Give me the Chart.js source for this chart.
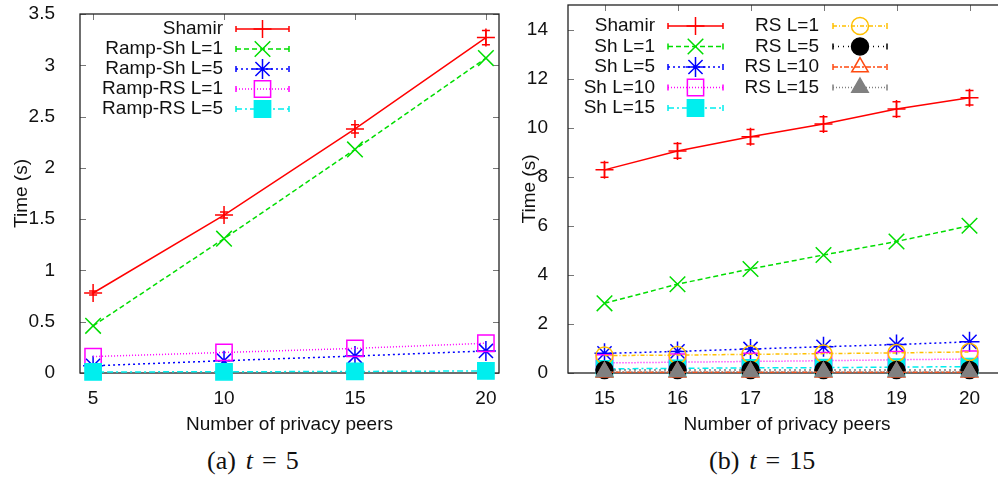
<!DOCTYPE html>
<html>
<head>
<meta charset="utf-8">
<script src="https://cdn.jsdelivr.net/npm/chart.js@4.4.1/dist/chart.umd.min.js"></script>
<style>
  html, body { margin: 0; padding: 0; background: #fff; overflow: hidden; }
  #wrap { position: relative; width: 998px; height: 485px; overflow: hidden; }
  canvas { position: absolute; top: 0; }
  #chartA { left: 0; }
  #chartB { left: 500px; }
  .cap { position: absolute; top: 446px; font-family: "Liberation Serif", "DejaVu Serif", serif;
         font-size: 26px; line-height: 30px; color: #111; white-space: nowrap; }
  .cap i { font-style: italic; }
</style>
</head>
<body>
<div id="wrap">
  <canvas id="chartA" width="500" height="440"></canvas>
  <canvas id="chartB" width="520" height="440"></canvas>
  <div class="cap" style="left:207px">(a)<i style="margin-left:10px">t</i><span style="margin-left:9px">=</span><span style="margin-left:9px">5</span></div>
  <div class="cap" style="left:709px">(b)<i style="margin-left:10px">t</i><span style="margin-left:9px">=</span><span style="margin-left:9px">15</span></div>
</div>
<script>
// --- (a) t = 5 ---
const xTicksA = [5, 10, 15, 20];
const yTicksA = [0, 0.5, 1, 1.5, 2, 2.5, 3, 3.5];
const shamirA    = [0.78, 1.54, 2.38, 3.27];
const shamirErrA = [0.02, 0.03, 0.04, 0.07];
const rampSh1A   = [0.46, 1.31, 2.18, 3.07];
const rampSh5A   = [0.07, 0.12, 0.165, 0.215];
const rampRs1A   = [0.16, 0.20, 0.24, 0.29];
const rampRs5A   = [0.01, 0.012, 0.015, 0.02];

// --- (b) t = 15 ---
const xTicksB = [15, 16, 17, 18, 19, 20];
const yTicksB = [0, 2, 4, 6, 8, 10, 12, 14];
const shamirB    = [8.28, 9.05, 9.63, 10.15, 10.76, 11.22];
const shamirErrB = [0.3, 0.3, 0.3, 0.3, 0.3, 0.3];
const sh1B  = [2.84, 3.62, 4.24, 4.81, 5.36, 6.0];
const sh5B  = [0.80, 0.88, 0.98, 1.07, 1.16, 1.27];
const sh10B = [0.41, 0.44, 0.47, 0.50, 0.54, 0.57];
const sh15B = [0.17, 0.19, 0.21, 0.22, 0.24, 0.26];
const rs1B  = [0.71, 0.73, 0.76, 0.79, 0.82, 0.86];
const rs5B  = [0.12, 0.12, 0.12, 0.12, 0.12, 0.12];
const rs10B = [0.03, 0.03, 0.03, 0.03, 0.03, 0.03];
const rs15B = [0.05, 0.05, 0.05, 0.05, 0.05, 0.05];

const FAMILY = '"Liberation Sans", Arial, sans-serif';
const FONT = { family: FAMILY, size: 19 };

const pts = (xs, ys) => xs.map((x, i) => ({ x, y: ys[i] }));

// une serie facon gnuplot : ligne + marqueur
function serie(label, xs, ys, color, style, extra) {
  return Object.assign({
    label,
    data: pts(xs, ys),
    borderColor: color,
    backgroundColor: color,
    borderWidth: 1.5,
    pointStyle: style,
    pointRadius: 9,
    pointHoverRadius: 9,
    pointBorderColor: color,
    pointBackgroundColor: 'rgba(0,0,0,0)',
    pointBorderWidth: 1.5,
    tension: 0,
    fill: false,
    clip: false,
  }, extra || {});
}

// ─── Plugins ────────────────────────────────────────────────────────────────

// cadre + graduations vers l'interieur sur les 4 cotes
const gpFrame = {
  id: 'gpFrame',
  beforeDatasetsDraw(chart) {
    const { ctx, chartArea: a, scales: { x, y } } = chart;
    const len = 6;
    ctx.save();
    ctx.strokeStyle = '#777';
    ctx.lineWidth = 1;
    ctx.beginPath();
    x.ticks.forEach(t => {
      const px = Math.round(x.getPixelForValue(t.value)) + 0.5;
      ctx.moveTo(px, a.bottom); ctx.lineTo(px, a.bottom - len);
      ctx.moveTo(px, a.top);    ctx.lineTo(px, a.top + len);
    });
    y.ticks.forEach(t => {
      const py = Math.round(y.getPixelForValue(t.value)) + 0.5;
      ctx.moveTo(a.left, py);  ctx.lineTo(a.left + len, py);
      ctx.moveTo(a.right, py); ctx.lineTo(a.right - len, py);
    });
    ctx.stroke();
    ctx.strokeStyle = '#222';
    ctx.lineWidth = 1.3;
    ctx.strokeRect(a.left, a.top, a.right - a.left, a.bottom - a.top);
    ctx.restore();
  }
};

// barres d'erreur verticales
const gpErrors = {
  id: 'gpErrors',
  afterDatasetsDraw(chart) {
    const { ctx, scales: { x, y } } = chart;
    ctx.save();
    chart.data.datasets.forEach(d => {
      if (!d.errorBars) return;
      ctx.strokeStyle = d.borderColor;
      ctx.lineWidth = 1.5;
      ctx.beginPath();
      d.data.forEach((p, i) => {
        const e = d.errorBars[i];
        const px = x.getPixelForValue(p.x);
        const y1 = y.getPixelForValue(p.y - e), y2 = y.getPixelForValue(p.y + e);
        ctx.moveTo(px, y1); ctx.lineTo(px, y2);
        ctx.moveTo(px - 4, y1); ctx.lineTo(px + 4, y1);
        ctx.moveTo(px - 4, y2); ctx.lineTo(px + 4, y2);
      });
      ctx.stroke();
    });
    ctx.restore();
  }
};

// legende gnuplot : texte aligne a droite puis echantillon
const gpLegend = {
  id: 'gpLegend',
  afterDraw(chart, args, o) {
    const ctx = chart.ctx;
    ctx.save();
    ctx.font = `19px ${FAMILY}`;
    ctx.textAlign = 'right';
    ctx.textBaseline = 'middle';
    let idx = 0;
    o.columns.forEach(col => {
      for (let r = 0; r < col.count; r++, idx++) {
        const d = chart.data.datasets[idx];
        const yy = o.top + r * o.rowHeight;
        ctx.fillStyle = '#111';
        ctx.fillText(d.label, col.textRight, yy);
        ctx.strokeStyle = d.borderColor;
        ctx.lineWidth = d.borderWidth;
        ctx.setLineDash(d.borderDash || []);
        ctx.beginPath();
        ctx.moveTo(col.lineStart, yy); ctx.lineTo(col.lineEnd, yy);
        ctx.stroke();
        ctx.setLineDash([]);
        ctx.beginPath();
        ctx.moveTo(col.lineStart, yy - 3); ctx.lineTo(col.lineStart, yy + 3);
        ctx.moveTo(col.lineEnd, yy - 3);   ctx.lineTo(col.lineEnd, yy + 3);
        ctx.stroke();
        ctx.fillStyle = d.pointBackgroundColor;
        ctx.strokeStyle = d.pointBorderColor;
        ctx.lineWidth = d.pointBorderWidth;
        Chart.helpers.drawPoint(ctx, {
          pointStyle: d.pointStyle, radius: d.pointRadius,
          borderWidth: d.pointBorderWidth, rotation: 0,
        }, (col.lineStart + col.lineEnd) / 2, yy);
      }
    });
    ctx.restore();
  }
};

function makeScales(xt, yt, xmin, xmax, ymax, yWidth, xHeight, yTitlePad, yTickPad) {
  return {
    x: {
      type: 'linear', min: xmin, max: xmax,
      afterBuildTicks: s => { s.ticks = xt.map(v => ({ value: v })); },
      afterFit: s => { s.height = xHeight; s.paddingLeft = 0; s.paddingRight = 0; },
      grid: { display: false }, border: { display: false },
      ticks: { color: '#111', font: FONT, padding: 6, maxRotation: 0, autoSkip: false,
               callback: v => String(v) },
      title: { display: true, text: 'Number of privacy peers', color: '#111', font: FONT,
               padding: { top: 0, bottom: 4 } },
    },
    y: {
      type: 'linear', min: 0, max: ymax,
      afterBuildTicks: s => { s.ticks = yt.map(v => ({ value: v })); },
      afterFit: s => { s.width = yWidth; s.paddingTop = 0; s.paddingBottom = 0; },
      grid: { display: false }, border: { display: false },
      ticks: { color: '#111', font: FONT, padding: yTickPad, callback: v => String(v) },
      title: { display: true, text: 'Time (s)', color: '#111', font: FONT,
               padding: { top: yTitlePad, bottom: 0 } },
    },
  };
}

function baseOptions(scales, legend, pad) {
  return {
    responsive: false,
    animation: false,
    devicePixelRatio: 1,
    layout: { padding: pad, autoPadding: false },  // sinon les gros marqueurs decalent la zone
    plugins: { legend: { display: false }, tooltip: { enabled: false }, gpLegend: legend },
    scales,
  };
}

const setA = [
  serie('Shamir',           xTicksA, shamirA,  '#ff0000', 'cross',    { errorBars: shamirErrA }),
  serie('Ramp-Sh L=1',      xTicksA, rampSh1A, '#00dd00', 'crossRot', { borderDash: [5, 3], pointRadius: 11 }),
  serie('Ramp-Sh L=5',      xTicksA, rampSh5A, '#0000ff', 'star',     { borderDash: [2, 3], pointRadius: 10 }),
  serie('Ramp-RS L=1',      xTicksA, rampRs1A, '#ff00ff', 'rect',     { borderDash: [1, 2], pointRadius: 11.5 }),
  serie('Ramp-RS L=5',      xTicksA, rampRs5A, '#00eeee', 'rect',     { borderDash: [6, 3, 2, 3], pointRadius: 11.5,
                                                                          pointBackgroundColor: '#00eeee' }),
];
setA.forEach((d, i) => { d.order = -i; });

new Chart(document.getElementById('chartA'), {
  type: 'line',
  data: { datasets: setA },
  options: baseOptions(
    makeScales(xTicksA, yTicksA, 4.5, 20.5, 3.5, 80, 67, 10, 17),
    { top: 29, rowHeight: 20, columns: [{ textRight: 223, lineStart: 236, lineEnd: 289, count: 5 }] },
    { top: 14, right: 1, bottom: 0, left: 0 }
  ),
  plugins: [gpFrame, gpErrors, gpLegend],
});

const setB = [
  serie('Shamir',  xTicksB, shamirB, '#ff0000', 'cross',    { errorBars: shamirErrB }),
  serie('Sh L=1',  xTicksB, sh1B,  '#00dd00', 'crossRot',  { borderDash: [5, 3], pointRadius: 11 }),
  serie('Sh L=5',  xTicksB, sh5B,  '#0000ff', 'star',      { borderDash: [2, 3], pointRadius: 10 }),
  serie('Sh L=10', xTicksB, sh10B, '#ff00ff', 'rect',      { borderDash: [1, 2], pointRadius: 11.5 }),
  serie('Sh L=15', xTicksB, sh15B, '#00eeee', 'rect',      { borderDash: [6, 3, 2, 3], pointRadius: 11.5,
                                                              pointBackgroundColor: '#00eeee' }),
  serie('RS L=1',  xTicksB, rs1B,  '#ffc000', 'circle',    { borderDash: [4, 2, 1, 2], pointRadius: 8.5 }),
  serie('RS L=5',  xTicksB, rs5B,  '#000000', 'circle',    { borderDash: [1, 4], pointRadius: 8.5,
                                                              pointBackgroundColor: '#000000' }),
  serie('RS L=10', xTicksB, rs10B, '#ff4a10', 'triangle',  { borderDash: [5, 2, 2, 2], pointRadius: 9.5 }),
  serie('RS L=15', xTicksB, rs15B, '#808080', 'triangle',  { borderDash: [1, 2], pointRadius: 9.5,
                                                              pointBackgroundColor: '#808080' }),
];
setB.forEach((d, i) => { d.order = -i; });

new Chart(document.getElementById('chartB'), {
  type: 'line',
  data: { datasets: setB },
  options: baseOptions(
    makeScales(xTicksB, yTicksB, 14.5, 20.5, 15, 68, 67, 18, 12),
    { top: 26, rowHeight: 20.5, columns: [
      { textRight: 155, lineStart: 168, lineEnd: 223, count: 5 },
      { textRight: 319, lineStart: 333, lineEnd: 387, count: 4 },
    ] },
    { top: 5, right: 14, bottom: 0, left: 0 }
  ),
  plugins: [gpFrame, gpErrors, gpLegend],
});
</script>
</body>
</html>
